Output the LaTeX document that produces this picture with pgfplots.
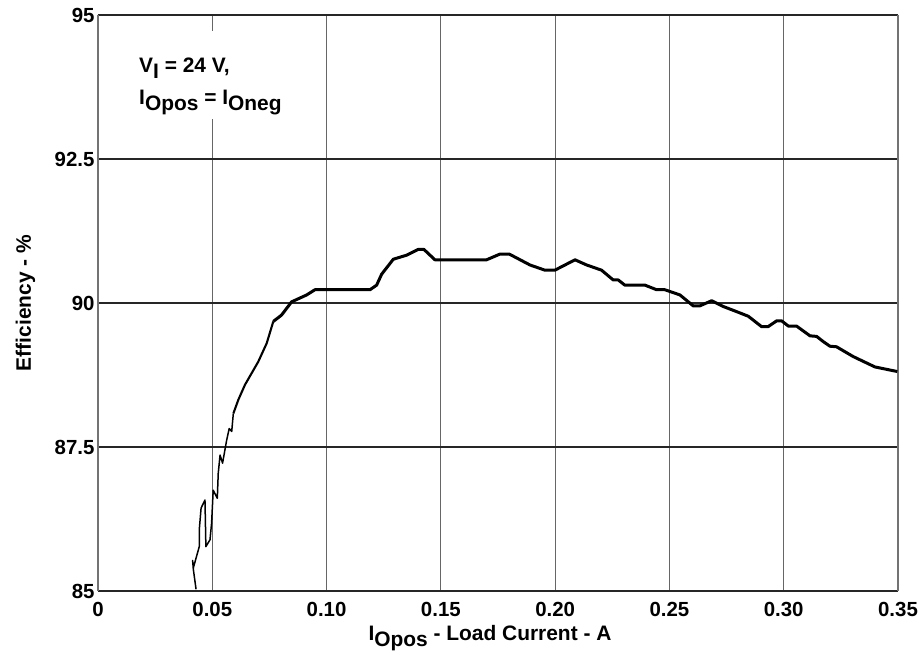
\documentclass[border=0pt]{standalone}
\usepackage{fontspec}
\setmainfont{Liberation Sans}
\usepackage{pgfplots}
\pgfplotsset{compat=1.18}
\usetikzlibrary{calc}
\newcommand\sub[1]{\raisebox{-6bp}{#1}}
\begin{document}
\begin{tikzpicture}
\begin{axis}[
  scale only axis, width=800bp, height=576bp,
  xmin=0, xmax=0.35, ymin=85, ymax=95,
  xtick={0,0.05,0.10,0.15,0.20,0.25,0.30,0.35},
  xticklabels={0,0.05,0.10,0.15,0.20,0.25,0.30,0.35},
  ytick={85,87.5,90,92.5,95},
  yticklabels={85,87.5,90,92.5,95},
  grid=major, major tick length=0pt,
  separate axis lines,
  x axis line style={black!85, line width=2.5bp},
  y axis line style={black!55, line width=2bp},
  x grid style={black!60, line width=0.9bp},
  y grid style={black!85, line width=1.6bp},
  tick label style={font=\fontsize{20.5}{20.5}\selectfont\bfseries},
  xticklabel style={yshift=-8bp},
  every axis x label/.style={at={(axis description cs:0.49,-0.0851)}, anchor=base},
  every axis y label/.style={at={(axis description cs:-0.08375,0.5)}, rotate=90, anchor=base},
  label style={font=\fontsize{21}{21}\selectfont\bfseries},
  xlabel={I\sub{Opos} - Load Current - A},
  ylabel={Efficiency - \%},
]
\fill[white] (rel axis cs:0.045,0.9722) rectangle (rel axis cs:0.25,0.8194);
\node[anchor=base west, inner sep=0pt, font=\fontsize{21}{21}\selectfont\bfseries] at (rel axis cs:0.05125,0.901) {V\sub{I} = 24 V,};
\node[anchor=base west, inner sep=0pt, font=\fontsize{21}{21}\selectfont\bfseries] at (rel axis cs:0.05125,0.84375) {I\sub{Opos} = I\sub{Oneg}};
\addplot[black, line width=1.5bp, line join=round] coordinates {
(0.0429,85.03) (0.0417,85.38) (0.0414,85.53) (0.0417,85.40) (0.0443,85.77)
(0.0443,86.06) (0.0451,86.44) (0.0468,86.58) (0.0472,85.77) (0.0490,85.89)
(0.0497,86.18) (0.0504,86.75) (0.0522,86.61) (0.0526,87.04) (0.0534,87.36)
(0.0545,87.22) (0.0563,87.62) (0.0574,87.82) (0.0585,87.77) (0.0592,88.08)
};
\addplot[black, line width=2.1bp, line join=round] coordinates {
(0.0592,88.08) (0.0614,88.32) (0.0643,88.58) (0.0672,88.78) (0.0701,88.98)
(0.0738,89.30) (0.0767,89.68)
};
\addplot[black, line width=3bp, line join=round] coordinates {
(0.0767,89.68) (0.0803,89.79) (0.0847,90.02) (0.0913,90.14) (0.0949,90.23)
(0.1190,90.23) (0.1219,90.31) (0.1241,90.50) (0.1292,90.76) (0.1350,90.83)
(0.1401,90.93) (0.1426,90.93) (0.1474,90.75) (0.1700,90.75) (0.1759,90.85)
(0.1799,90.85) (0.1890,90.66) (0.1955,90.57) (0.1999,90.57) (0.2087,90.75)
(0.2138,90.66) (0.2203,90.57) (0.2254,90.40) (0.2276,90.40) (0.2305,90.31)
(0.2393,90.31) (0.2444,90.23) (0.2480,90.23) (0.2546,90.14) (0.2604,89.95)
(0.2633,89.95) (0.2685,90.04) (0.2735,89.94) (0.2794,89.85) (0.2845,89.77)
(0.2903,89.59) (0.2932,89.59) (0.2969,89.69) (0.2991,89.69) (0.3020,89.60)
(0.3056,89.60) (0.3115,89.43) (0.3144,89.42) (0.3173,89.33) (0.3202,89.25)
(0.3231,89.24) (0.3304,89.07) (0.3399,88.89) (0.3497,88.81)
};
\coordinate (ll) at (rel axis cs:0,0);
\coordinate (ur) at (rel axis cs:1,1);
\end{axis}
\pgfresetboundingbox
\path ($(ll)+(-98bp,-64bp)$) rectangle ($(ur)+(23bp,15bp)$);
\end{tikzpicture}
\end{document}
